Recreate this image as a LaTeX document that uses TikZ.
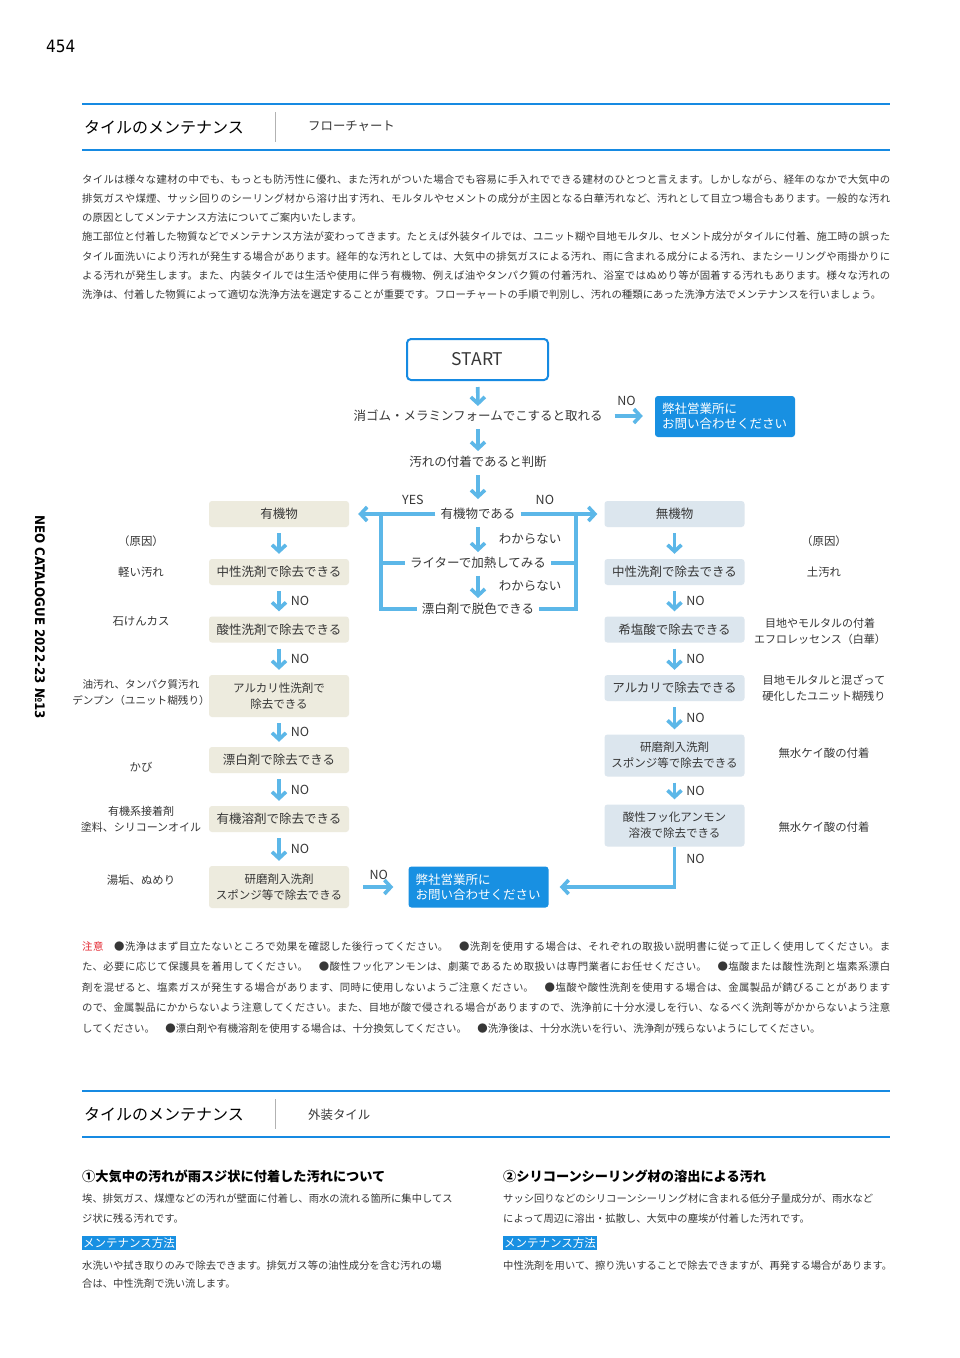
\documentclass[tikz,border=0pt]{standalone}
\usepackage{fontspec}
\setmainfont{Noto Sans CJK JP}
\newfontfamily\numfont{DejaVu Sans Condensed}
\usetikzlibrary{arrows.meta}
\XeTeXlinebreaklocale "ja"
\XeTeXlinebreakskip=0pt plus 1.5pt minus 0.3pt
\definecolor{hblue}{RGB}{22,138,226}
\definecolor{boxblue}{RGB}{24,144,226}
\definecolor{arrblue}{RGB}{92,183,232}
\definecolor{beige}{RGB}{237,235,222}
\definecolor{paleblue}{RGB}{220,230,238}
\definecolor{tdark}{RGB}{55,55,55}
\definecolor{nred}{RGB}{228,40,50}
\newcommand\fsz[2]{\fontsize{#1}{#2}\selectfont}
\tikzset{
 txt/.style={inner xsep=5pt, inner ysep=1pt, text=tdark, font=\fsz{12.5}{15}},
 fbox/.style={rounded corners=3pt, minimum width=140pt, minimum height=26pt, inner sep=2pt, text=tdark, align=center, font=\fsz{12.5}{16}},
 lb/.style={fbox, fill=beige},
 rb/.style={fbox, fill=paleblue},
 two/.style={minimum height=42pt, font=\fsz{11.5}{16}},
 bluebox/.style={fill=boxblue, text=white, rounded corners=3pt, minimum height=41pt, text width=126pt, inner xsep=7pt, align=left, font=\fsz{12.5}{15}},
 arr/.style={draw=arrblue, line width=3.6pt, -{Straight Barb[length=6.5pt,width=14pt]}},
 conn/.style={draw=arrblue, line width=3.6pt},
 cause/.style={text=tdark, align=center, font=\fsz{11.4}{16}, inner sep=1pt},
 nolab/.style={text=tdark, font=\fsz{12.5}{14}, inner sep=1pt},
 bodyline/.style={anchor=base west, inner sep=0pt, text=tdark, font=\fsz{10.3}{20}},
 hl/.style={anchor=west, fill=boxblue, text=white, inner xsep=1.5pt, inner ysep=1.5pt, font=\fsz{11.5}{13}},
 hdrline/.style={draw=hblue, line width=2.5pt},
}
\begin{document}
\begin{tikzpicture}[x=1pt,y=-1pt]
\path[use as bounding box, fill=white] (0,0) rectangle (960,1358);

% page number and side label
\node[anchor=base west, inner sep=0, font=\numfont\fsz{17}{20}, text=black] (pnum) at (46,52) {454};
\node[rotate=-90, font=\numfont\bfseries\fsz{13.2}{15}, text=black] (side) at (40,617) {NEO CATALOGUE 2022-23 №13};

% header 1
\draw[hdrline] (82,104) -- (890,104);
\draw[hdrline] (82,150) -- (890,150);
\draw[gray!60, line width=0.6pt] (275,112) -- (275,142);
\node[anchor=west, inner sep=0, text=black, font=\fsz{16}{18}] (h1) at (84,127) {タイルのメンテナンス};
\node[anchor=west, inner sep=0, text=tdark, font=\fsz{12.4}{14}] (h1s) at (308,126) {フローチャート};

% intro paragraph
\node[anchor=base west, text width=808pt, align=justify, inner sep=0pt, text=tdark, font=\fsz{10.4}{19.33}] (intro) at (82,183) {タイルは様々な建材の中でも、もっとも防汚性に優れ、また汚れがついた場合でも容易に手入れでできる建材のひとつと言えます。しかしながら、経年のなかで大気中の\linebreak 排気ガスや煤煙、サッシ回りのシーリング材から溶け出す汚れ、モルタルやセメントの成分が主因となる白華汚れなど、汚れとして目立つ場合もあります。一般的な汚れ\linebreak の原因としてメンテナンス方法についてご案内いたします。\par
施工部位と付着した物質などでメンテナンス方法が変わってきます。たとえば外装タイルでは、ユニット糊や目地モルタル、セメント成分がタイルに付着、施工時の誤った\linebreak タイル面洗いにより汚れが発生する場合があります。経年的な汚れとしては、大気中の排気ガスによる汚れ、雨に含まれる成分による汚れ、またシーリングや雨掛かりに\linebreak よる汚れが発生します。また、内装タイルでは生活や使用に伴う有機物、例えば油やタンパク質の付着汚れ、浴室ではぬめり等が固着する汚れもあります。様々な汚れの\linebreak 洗浄は、付着した物質によって適切な洗浄方法を選定することが重要です。フローチャートの手順で判別し、汚れの種類にあった洗浄方法でメンテナンスを行いましょう。};

% flowchart central
\node[txt, font=\fsz{17.5}{20}, draw=hblue, line width=2pt, rounded corners=4pt, minimum width=141pt, minimum height=41pt, fill=white] (start) at (477.5,359.5) {START};
\node[txt] (q0) at (478,416) {消ゴム・メラミンフォームでこすると取れる};
\node[bluebox] (b1) at (725,416.5) {弊社営業所に\\お問い合わせください};
\node[txt] (q00) at (478,462) {汚れの付着であると判断};
\node[txt] (q1) at (478,514) {有機物である};
\node[txt] (q2) at (478,563) {ライターで加熱してみる};
\node[txt] (q3) at (478,609) {漂白剤で脱色できる};
\coordinate (jl) at (381,514);
\coordinate (jr) at (576,514);

% left column
\node[lb] (l0) at (279,514) {有機物};
\node[lb] (l1) at (279,572) {中性洗剤で除去できる};
\node[lb] (l2) at (279,629.5) {酸性洗剤で除去できる};
\node[lb, two] (l3) at (279,696) {アルカリ性洗剤で\\除去できる};
\node[lb] (l4) at (279,760) {漂白剤で除去できる};
\node[lb] (l5) at (279,819) {有機溶剤で除去できる};
\node[lb, two] (l6) at (279,887) {研磨剤入洗剤\\スポンジ等で除去できる};

% right column
\node[rb] (r0) at (674.5,514) {無機物};
\node[rb] (r1) at (674.5,572) {中性洗剤で除去できる};
\node[rb] (r2) at (674.5,629.5) {希塩酸で除去できる};
\node[rb] (r3) at (674.5,688) {アルカリで除去できる};
\node[rb, two] (r4) at (674.5,755.5) {研磨剤入洗剤\\スポンジ等で除去できる};
\node[rb, two] (r5) at (674.5,825.5) {酸性フッ化アンモン\\溶液で除去できる};

\node[bluebox] (b2) at (478.5,887) {弊社営業所に\\お問い合わせください};

% connectors
\draw[arr, shorten <=6pt, shorten >=3pt] (start) -- (q0);
\draw[arr, shorten <=7pt, shorten >=12pt] (q0.east) -- (b1.west |- q0.east) node[pos=0.4, above=8pt, nolab] {NO};
\draw[arr, shorten <=6pt, shorten >=4pt] (q0) -- (q00);
\draw[arr, shorten <=6pt, shorten >=8pt] (q00) -- (q1);
\draw[arr, shorten <=6pt, shorten >=4pt] (q1) -- (q2) node[midway, right=14pt, txt] {わからない};
\draw[arr, shorten <=6pt, shorten >=4pt] (q2) -- (q3) node[midway, right=14pt, txt] {わからない};
\draw[arr, shorten >=9pt] (q1.west) -- (l0.east) node[pos=0.26, above=7pt, nolab] {YES};
\draw[arr, shorten >=7pt] (q1.east) -- (r0.west) node[pos=0.29, above=7pt, nolab] {NO};
\draw[conn] (q3.west) -| (jl);
\draw[conn] (q2.west) -- (q2.west -| jl);
\draw[conn] (q3.east) -| (jr);
\draw[conn] (q2.east) -- (q2.east -| jr);

\draw[arr, shorten <=6pt, shorten >=5pt] (l0) -- (l1);
\draw[arr, shorten <=6pt, shorten >=5pt] (r0) -- (r1);
\foreach \a/\b in {l1/l2,l2/l3,l3/l4,l4/l5,l5/l6,r1/r2,r2/r3,r3/r4,r4/r5}
  \draw[arr, shorten <=6pt, shorten >=5pt] (\a) -- (\b) node[midway, right=9pt, nolab] {NO};
\draw[arr, shorten <=14pt, shorten >=15pt] (l6) -- (b2) node[midway, above=5pt, nolab] {NO};
\draw[arr, shorten >=11pt] (r5.south) |- (b2.east) node[pos=0.15, right=9pt, nolab] {NO};

% causes
\node[cause] (c0) at (141,541) {（原因）};
\node[cause] (c1) at (141,572) {軽い汚れ};
\node[cause] (c2) at (141,621) {石けんカス};
\node[cause, font=\fsz{10.6}{16}] (c3) at (141,693) {油汚れ、タンパク質汚れ\\デンプン（ユニット糊残り）};
\node[cause] (c4) at (141,767) {かび};
\node[cause, font=\fsz{11}{16}] (c5) at (141,819) {有機系接着剤\\塗料、シリコーンオイル};
\node[cause] (c6) at (141,880) {湯垢、ぬめり};
\node[cause] (d0) at (824,541) {（原因）};
\node[cause] (d1) at (824,572) {土汚れ};
\node[cause, font=\fsz{11}{16}] (d2) at (820,631) {目地やモルタルの付着\\エフロレッセンス（白華）};
\node[cause, font=\fsz{11.2}{16}] (d3) at (824,688.5) {目地モルタルと混ざって\\硬化したユニット糊残り};
\node[cause] (d4) at (824,753) {無水ケイ酸の付着};
\node[cause] (d5) at (824,827) {無水ケイ酸の付着};

% notes
\node[anchor=base west, text width=808pt, align=justify, inner sep=0pt, text=tdark, font=\fsz{10.4}{20.5}] (note) at (82,950) {\textcolor{nred}{注意}　●洗浄はまず目立たないところで効果を確認した後行ってください。　●洗剤を使用する場合は、それぞれの取扱い説明書に従って正しく使用してください。ま\linebreak た、必要に応じて保護具を着用してください。　●酸性フッ化アンモンは、劇薬であるため取扱いは専門業者にお任せください。　●塩酸または酸性洗剤と塩素系漂白\linebreak 剤を混ぜると、塩素ガスが発生する場合があります、同時に使用しないようご注意ください。　●塩酸や酸性洗剤を使用する場合は、金属製品が錆びることがあります\linebreak ので、金属製品にかからないよう注意してください。また、目地が酸で侵される場合がありますので、洗浄前に十分水浸しを行い、なるべく洗剤等がかからないよう注意\linebreak してください。　●漂白剤や有機溶剤を使用する場合は、十分換気してください。　●洗浄後は、十分水洗いを行い、洗浄剤が残らないようにしてください。};

% header 2
\draw[hdrline] (82,1091) -- (890,1091);
\draw[hdrline] (82,1137) -- (890,1137);
\draw[gray!60, line width=0.6pt] (275,1099) -- (275,1129);
\node[anchor=west, inner sep=0, text=black, font=\fsz{16}{18}] (h2) at (84,1114) {タイルのメンテナンス};
\node[anchor=west, inner sep=0, text=tdark, font=\fsz{12.4}{14}] (h2s) at (308,1115) {外装タイル};

% bottom left column
\node[bodyline, text=black, font=\bfseries\fsz{13.2}{16}] (a0) at (82,1181) {①大気中の汚れが雨スジ状に付着した汚れについて};
\node[bodyline] (a1) at (82,1202) {埃、排気ガス、煤煙などの汚れが壁面に付着し、雨水の流れる箇所に集中してス};
\node[bodyline] (a2) at (82,1222) {ジ状に残る汚れです。};
\node[hl] (a3) at (81.5,1243) {メンテナンス方法};
\node[bodyline] (a4) at (82,1269) {水洗いや拭き取りのみで除去できます。排気ガス等の油性成分を含む汚れの場};
\node[bodyline] (a5) at (82,1287) {合は、中性洗剤で洗い流します。};

% bottom right column
\node[bodyline, text=black, font=\bfseries\fsz{13.2}{16}] (e0) at (503,1181) {②シリコーンシーリング材の溶出による汚れ};
\node[bodyline] (e1) at (503,1202) {サッシ回りなどのシリコーンシーリング材に含まれる低分子量成分が、雨水など};
\node[bodyline] (e2) at (503,1222) {によって周辺に溶出・拡散し、大気中の塵埃が付着した汚れです。};
\node[hl] (e3) at (502.5,1243) {メンテナンス方法};
\node[bodyline] (e4) at (503,1269) {中性洗剤を用いて、擦り洗いすることで除去できますが、再発する場合があります。};
\end{tikzpicture}
\end{document}
